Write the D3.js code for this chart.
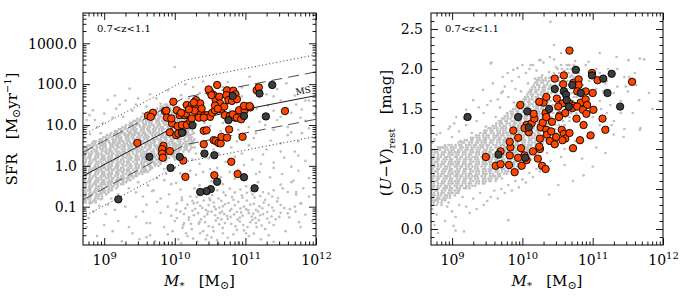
<!DOCTYPE html>
<html>
<head>
<meta charset="utf-8">
<script src="https://cdn.jsdelivr.net/npm/d3@7/dist/d3.min.js"></script>
<style>
  body { margin: 0; background: #fff; }
  svg text { font-family: "DejaVu Serif", serif; fill: #000; }
</style>
</head>
<body>
<script>
var W = 683, H = 302;
var TOP = 13, BOTTOM = 245;

// axis ticks
var massTicks = [1e9, 1e10, 1e11, 1e12];
var massExp = ["9", "10", "11", "12"];
var sfrTicks = [0.1, 1, 10, 100, 1000];
var uvTicks = [0, 0.5, 1, 1.5, 2, 2.5];
var zLabel = "0.7<z<1.1";

// main sequence (log M, log SFR), its label spot, and the bands around it (dex)
var msMass = [8.7, 10.15, 12.0];
var msSFR = [-0.25, 1.10, 1.72];
var msLabel = [11.72, 1.73];
var dashOff = [0.58, -0.58];
var dotOff = [1.0, -1.0];

// highlighted galaxies, [log M, log SFR]
var orangeL = [
  [9.62,1.23],[9.69,1.30],[9.66,1.20],[9.47,0.56],[9.84,0.49],[9.82,0.41],[9.82,0.30],[9.83,0.20],[9.86,1.34],[9.89,1.18],
  [9.98,1.57],[10.03,1.36],[9.96,1.04],[9.93,0.82],[10.04,0.97],[10.02,0.75],[10.15,-0.27],[10.07,1.24],[10.14,1.24],[10.10,1.00],
  [10.17,1.00],[10.22,1.10],[10.11,0.82],[10.05,0.79],[10.17,1.49],[10.24,1.49],[10.30,1.61],[10.31,1.45],[10.33,1.28],[10.36,1.53],
  [10.42,1.24],[10.46,1.24],[10.50,1.20],[10.28,1.35],[10.38,1.40],[10.24,1.16],[10.50,1.81],[10.48,1.87],[10.55,1.73],[10.58,1.61],
  [10.60,1.98],[10.53,1.30],[10.57,1.36],[10.63,1.69],[10.64,1.53],[10.66,1.38],[10.70,1.45],[10.74,1.85],[10.73,1.73],[10.76,1.61],
  [10.81,1.59],[10.83,1.84],[10.86,1.75],[10.88,1.63],[10.91,1.36],[10.71,1.24],[10.78,1.22],[10.85,1.18],[10.41,0.86],[10.45,0.87],
  [10.41,0.53],[10.55,0.63],[10.58,0.61],[10.62,0.56],[10.65,0.55],[10.66,0.71],[10.74,0.69],[10.77,0.89],[10.80,0.10],[10.96,0.71],
  [10.99,1.36],[11.03,1.45],[11.07,1.43],[11.16,1.85],[11.19,1.92],[11.56,1.34],[10.56,-0.23],[10.89,-0.20],[9.93,0.36],[10.12,0.13],
  [9.88,1.35],[9.95,1.16],[10.16,1.28],[10.09,1.30],[10.34,1.18],[10.41,1.18],[10.52,1.73],[10.57,1.48],[10.61,1.40],[10.82,1.26],
  [10.88,1.18],[10.94,1.14],[10.98,1.47],[11.06,1.46],[10.20,1.38],[10.27,1.55]
];
var darkL = [
  [9.20,-0.82],[9.64,0.22],[9.94,-0.05],[10.07,0.22],[10.10,0.81],[10.25,0.99],[10.42,0.30],[10.56,0.26],[10.60,-0.39],[10.51,-0.57],
  [10.45,-0.62],[10.36,-0.64],[10.98,-0.28],[11.13,-0.55],[10.82,1.71],[10.76,1.12],[10.98,1.22],[11.29,1.21],[11.38,1.98],[11.20,1.77]
];

// same galaxies, [log M, U-V]
var orangeR = [
  [9.48,0.90],[9.62,0.79],[9.69,0.81],[9.69,0.97],[9.81,0.80],[9.82,0.92],[9.83,1.02],[9.82,1.09],[9.87,1.23],[9.89,0.71],
  [9.94,1.14],[9.94,0.89],[9.98,1.01],[9.99,0.79],[10.03,0.92],[10.09,1.21],[10.06,1.30],[10.13,1.32],[10.17,1.38],[10.15,0.97],
  [10.22,0.88],[10.25,1.00],[10.25,1.13],[10.26,1.27],[10.28,0.79],[10.33,0.75],[10.29,1.33],[10.34,1.24],[10.35,1.18],[10.39,1.10],
  [10.42,1.34],[10.46,1.06],[10.53,1.42],[10.56,1.24],[10.59,1.19],[10.61,1.13],[10.72,1.01],[10.77,1.38],[10.82,1.11],[10.87,1.30],
  [10.97,1.17],[11.14,1.38],[11.18,1.24],[10.67,2.23],[11.56,1.84],[10.46,1.88],[10.59,1.92],[10.58,1.81],[10.73,1.83],[10.80,1.87],
  [10.80,1.80],[10.78,1.72],[10.90,1.72],[11.00,1.70],[10.99,1.95],[11.07,1.86],[10.49,1.63],[10.57,1.57],[10.67,1.57],[10.73,1.54],
  [10.83,1.58],[10.90,1.62],[10.92,1.55],[10.30,1.58],[9.97,1.55],[10.33,1.45],[10.51,1.53],[10.61,1.45],[10.71,1.51],[10.78,1.53],
  [10.86,1.49],[10.91,1.44],[11.01,1.49],[10.16,1.44],[10.34,1.40],[10.52,1.40],[10.24,1.59],[10.34,1.65],[10.03,1.26],[10.48,1.15],
  [10.57,1.11],[10.67,1.20],[10.41,1.22],[10.24,1.03],[10.06,0.86]
];
var darkR = [
  [9.22,1.40],[9.66,0.93],[9.94,1.40],[10.09,1.27],[10.76,1.99],[10.99,1.92],[11.15,1.88],[11.27,1.94],[11.21,1.70],[11.39,1.53],
  [10.46,1.75],[10.59,1.72],[10.62,1.68],[10.71,1.80],[10.63,1.61],[10.83,1.70],[10.66,1.53],[10.38,1.50],[10.07,1.47],[10.04,0.89]
];

// background sample, dense part written row by row:
// [y value, log M x100 of first point, gaps to the next points in 0.01 dex]
var grayCoreL = [
  [-0.90, 871, "354"],
  [-0.85, 870, "4653"],
  [-0.80, 872, "53746"],
  [-0.75, 870, "362745"],
  [-0.70, 871, "3546347"],
  [-0.65, 870, "46537425"],
  [-0.60, 872, "537463542"],
  [-0.55, 870, "3627453746"],
  [-0.50, 871, "35463473526"],
  [-0.45, 870, "4653742536453"],
  [-0.40, 872, "5374635426374"],
  [-0.35, 870, "362745374635264"],
  [-0.30, 871, "3546347352645436"],
  [-0.25, 870, "46537425364537462"],
  [-0.20, 872, "537463542637453645"],
  [-0.15, 870, "36274537463526473546"],
  [-0.10, 871, "354634735264543657435"],
  [-0.05, 870, "4653742536453746235473"],
  [0.00, 872, "53746354263745364527365"],
  [0.05, 870, "362745374635264735462736"],
  [0.10, 871, "35463473526454365743524637"],
  [0.15, 870, "465374253645374623547364532"],
  [0.20, 872, "5374635426374536452736548374"],
  [0.25, 870, "36274537463526473546273645735"],
  [0.30, 871, "354634735264543657435246375434"],
  [0.35, 872, "4653742536453746235473645326547"],
  [0.40, 870, "537463542637453645273654837452635"],
  [0.45, 872, "3627453746352647354627364573526374"],
  [0.50, 877, "354634735264543657435246375434625"],
  [0.55, 883, "46537425364537462354736453265473"],
  [0.60, 888, "537463542637453645273654837452"],
  [0.65, 894, "36274537463526473546273645735"],
  [0.70, 899, "3546347352645436574352463754"],
  [0.75, 904, "465374253645374623547364532"],
  [0.80, 910, "5374635426374536452736548"],
  [0.85, 915, "362745374635264735462736"],
  [0.90, 921, "35463473526454365743524"],
  [0.95, 926, "4653742536453746235473"],
  [1.00, 931, "53746354263745364527"],
  [1.05, 937, "3627453746352647354"],
  [1.10, 942, "354634735264543657"],
  [1.15, 947, "465374253645374"],
  [1.20, 953, "53746354263745"],
  [1.25, 958, "362745374635"],
  [1.30, 964, "3546347352"],
  [1.35, 969, "46537425"],
  [1.40, 975, "537463"],
  [1.45, 980, "3627"],
  [1.50, 986, "354"]
];
// single points: "logM*100,logSFR*100"
var grayUpperL = "879,124 884,136 875,112 898,104 905,161 917,140 927,120 936,189 948,165 960,145 974,165 1000,242 1009,173 1026,193 1040,206 1068,193 1106,218 1158,202 890,95 912,118 922,150 940,135 955,128 965,175 980,152 990,185 1012,150 1020,165 1035,178 1050,190 1060,168 1075,205 1085,178 1095,192 1115,198 1130,175 1145,188 1170,172 1185,160 1210,150 1160,140 895,80 880,78 1005,140 1015,200 1030,155 995,162 985,131 945,150 930,160 915,172 900,128 887,112 876,96 872,70 885,60 870,88";
var grayLowL = "872,-105 885,-112 878,-128 893,-98 902,-118 915,-108 920,-135 935,-150 945,-125 912,-160 890,-172 950,-180 960,-140 930,-100 875,-150 900,-145 925,-185 955,-112 940,-165 965,-170 888,-90 905,-95 880,-92 872,-85 895,-82 910,-80";
var grayQuiescentL = "985,-35 1002,-42 1018,-30 1035,-48 1052,-38 1068,-45 1085,-32 1101,-50 1118,-40 1135,-28 1150,-46 1168,-36 1182,-55 1030,-22 1060,-25 1090,-18 1120,-15 1152,-20 1175,-12 968,-62 992,-70 1008,-58 1022,-75 1038,-66 1049,-80 1060,-60 1072,-72 1085,-65 1096,-78 1108,-62 1121,-74 1133,-68 1146,-79 1160,-64 1172,-70 1010,-78 1028,-55 1045,-63 1078,-56 1102,-66 1115,-58 1140,-60 1190,-75 955,-75 980,-80 960,-95 975,-88 990,-100 1003,-92 1015,-104 1025,-86 1036,-98 1044,-108 1055,-90 1063,-102 1071,-94 1080,-106 1090,-88 1098,-100 1107,-95 1115,-108 1126,-90 1138,-102 1150,-96 1163,-106 1178,-92 1010,-84 1032,-90 1050,-84 1066,-86 1085,-96 1102,-85 1120,-99 1145,-87 1170,-100 980,-115 995,-122 1008,-112 1020,-126 1033,-116 1042,-124 1052,-112 1061,-128 1070,-118 1079,-125 1088,-113 1096,-122 1105,-116 1114,-128 1125,-118 1137,-124 1150,-115 1162,-126 1025,-110 1046,-119 1067,-112 1092,-127 1118,-112 1140,-110 965,-140 985,-150 1000,-135 1012,-145 1024,-155 1035,-138 1048,-148 1058,-134 1068,-152 1080,-142 1092,-136 1103,-150 1115,-140 1128,-155 1140,-145 1020,-132 1055,-160 1075,-130 1098,-158 1110,-132 960,-175 972,-185 990,-168 1005,-180 1018,-172 1032,-186 1046,-170 1060,-182 1075,-176 1090,-188 1105,-172 1122,-180 1140,-186 985,-190 1040,-160 1068,-165 1003,-128 1013,-118 1027,-121 1037,-131 1057,-121 1064,-116 1074,-123 1084,-119 1094,-114 1109,-124 1121,-121 1131,-129 1039,-103 1048,-96 1058,-106 1068,-99 1076,-91 1093,-104 1104,-109 1112,-93 1124,-104 1133,-96 1027,-92 1041,-85 1062,-80 1083,-83 1095,-72 1113,-78 1128,-83 1023,-142 1043,-138 1063,-143 1086,-148 1107,-138 1123,-146 1016,-165 1036,-165 1052,-175 1083,-168 1112,-166 1133,-170 1157,-160 1178,-150 1195,-135 1200,-110 1210,-95 1225,-80 1185,-120 1176,-138 1018,-95 1029,-105 1047,-112 1056,-100 1066,-131 1078,-110 1089,-131 1101,-106 1111,-117 1119,-133 1131,-113 1143,-131 1155,-103 1034,-142 1054,-150 1071,-140 1088,-157 1101,-165 1062,-190 1044,-180 1026,-178 1009,-190 997,-160 1011,-152 1031,-76 1053,-72 1069,-65 1093,-58 1110,-70 1125,-64 1138,-75 1081,-76 1002,-108 1013,-140 1097,-145 1116,-150 1134,-139 1148,-125 1160,-116 1171,-112";
var grayValleyL = "920,-70 935,-55 948,-40 962,-48 975,-30 988,-20 1000,-5 1012,8 1022,-12 1035,5 1048,18 1060,-5 1072,10 1085,22 1098,2 1110,15 1125,28 1140,8 1155,20 1170,35 1185,12 945,-65 970,-60 995,-45 1015,-30 1040,-15 1065,-28 1090,-10 1115,-20 1140,-5 1165,-2 1005,25 1030,30 1055,40 1080,45 1105,50 1130,40 1150,55 1175,60 1195,45 958,-15 980,5 1000,15 1020,35 1042,45 1062,30 1088,60 1112,68 1136,62 1160,75 1180,80 1200,70 1210,30 1225,55 1240,20 1153,-55 1172,-64 1179,-92 1165,-40 1190,-30 940,-25 955,-5 968,12 985,-8 1008,-18 1025,15 1050,-8 1078,-15 1095,30 1122,5 1150,35 1175,25";
var grayMassiveL = "1010,110 1022,125 1035,132 1045,118 1055,140 1062,128 1070,150 1078,135 1085,160 1092,145 1100,130 1108,155 1116,140 1125,125 1132,148 1140,135 1150,160 1158,142 1165,130 1172,150 1180,138 1190,160 1200,145 1210,130 1225,150 1030,102 1050,98 1068,105 1088,110 1105,95 1120,108 1145,112 1160,95 1185,110 1040,150 1058,165 1075,175 1095,170 1118,178 1140,170 1028,145 1048,130 1066,120 1083,122 1100,115 1128,100 1150,120 1178,118 1198,125 1215,112 1015,92 1025,78 1045,80 1065,85 1090,88 1115,80 1140,88 1165,82 1190,92 1212,85 1020,140 1032,120 1042,105 1052,112 1038,88 1025,100 1012,130";

var grayCoreR = [
  [0.30, 870, "35"],
  [0.33, 870, "465"],
  [0.36, 871, "5374"],
  [0.39, 870, "362745"],
  [0.42, 872, "3546347"],
  [0.45, 870, "465374253"],
  [0.48, 871, "537463542"],
  [0.51, 870, "362745374635"],
  [0.54, 872, "35463473526454"],
  [0.57, 870, "46537425364537462"],
  [0.60, 871, "53746354263745364527"],
  [0.63, 870, "3627453746352647354627"],
  [0.66, 872, "3546347352645436574352"],
  [0.69, 870, "465374253645374623547364"],
  [0.72, 871, "5374635426374536452736548"],
  [0.75, 870, "362745374635264735462736457"],
  [0.78, 872, "3546347352645436574352463754"],
  [0.81, 870, "46537425364537462354736453265"],
  [0.84, 871, "537463542637453645273654837452"],
  [0.87, 870, "3627453746352647354627364573526"],
  [0.90, 872, "3546347352645436574352463754346"],
  [0.93, 870, "465374253645374623547364532654735"],
  [0.96, 871, "537463542637453645273654837452635"],
  [0.99, 872, "3627453746352647354627364573526374"],
  [1.02, 880, "354634735264543657435246375434625"],
  [1.05, 895, "465374253645374623547364532654"],
  [1.08, 909, "5374635426374536452736548374"],
  [1.11, 918, "36274537463526473546273645"],
  [1.14, 927, "354634735264543657435246"],
  [1.17, 934, "46537425364537462354736"],
  [1.20, 940, "537463542637453645273"],
  [1.23, 946, "36274537463526473546"],
  [1.26, 952, "3546347352645436574"],
  [1.29, 958, "46537425364537462"],
  [1.32, 963, "5374635426374536"],
  [1.35, 967, "362745374635264"],
  [1.38, 971, "35463473526454"],
  [1.41, 975, "4653742536453"],
  [1.44, 979, "537463542637"],
  [1.47, 983, "362745374635"],
  [1.50, 987, "35463473526"],
  [1.53, 991, "4653742536"],
  [1.56, 995, "537463542"],
  [1.59, 999, "36274537"],
  [1.62, 1002, "3546347"],
  [1.65, 1004, "4653742"],
  [1.68, 1007, "537463"],
  [1.71, 1009, "362745"],
  [1.74, 1011, "35463"],
  [1.77, 1014, "46537"],
  [1.80, 1016, "5374"],
  [1.83, 1018, "3627"],
  [1.86, 1021, "354"],
  [1.89, 1023, "465"]
];
var grayHighR = [
  [1.20, 1040, "87"],
  [1.25, 1038, "96"],
  [1.30, 1040, "758"],
  [1.35, 1037, "6879"],
  [1.40, 1041, "7586"],
  [1.45, 1038, "695748"],
  [1.50, 1040, "7596847"],
  [1.55, 1037, "68574967"],
  [1.60, 1040, "8469578"],
  [1.65, 1038, "75968475"],
  [1.70, 1041, "6857496"],
  [1.75, 1037, "8469578"],
  [1.80, 1040, "7596847"],
  [1.85, 1038, "6857496"],
  [1.90, 1041, "846957"],
  [1.95, 1045, "75968"],
  [2.00, 1050, "6857"],
  [2.05, 1055, "846"]
];
// single points: "logM*100,(U-V)*100"
var grayUpperR = "883,120 897,128 906,140 920,149 930,161 944,174 958,182 972,190 987,199 1000,205 1024,211 1039,215 1040,259 956,208 875,112 890,105 900,115 910,122 920,130 925,140 935,135 945,145 950,155 955,160 965,162 970,170 975,178 980,165 985,185 990,175 995,190 1005,195 1010,200 1015,205 1020,198 1030,208 1045,212 1055,220 1065,205 1075,210 872,108 878,118 886,102 895,125 903,132 912,110 917,138 928,120 938,152 948,128 962,140 968,152 978,145 988,158 998,172 1008,182 1018,188 1028,192 1038,196 1048,202 1060,198 1070,192 1080,200 1090,205 955,207 972,172 979,195 993,201 1012,205 1026,211 1045,230 1094,209 1134,215 1151,211 1167,213 1110,220 1122,200";
var grayLowR = "872,25 878,18 885,30 890,10 895,33 900,22 905,-2 902,4 910,30 915,40 920,28 930,38 940,45 950,35 960,48 970,50 980,55 990,60 1000,62 1010,70 1020,75 1035,95 1050,105 1060,100 1068,102 980,11 875,5 880,-5 874,35 882,38 893,28 905,15 917,-3 925,20 935,25 945,30 955,40 965,38 975,45 985,48 995,52 1005,58 1015,65 1025,72 1040,85 1055,90 1072,98 1085,88 1100,78 1087,67 1072,60 1051,55 1038,43 1060,80 1075,110 1092,115 1105,102 1118,95 1130,118 1145,125 1110,130";
var grayMassiveR = "1173,212 1152,190 1147,178 1166,161 1157,145 1168,126 1100,190 1110,195 1120,185 1130,170 1135,200 1140,160 1145,190 1125,155 1160,195 1110,160 1105,175 1115,172 1120,145 1130,135 1167,124 1127,130 1144,115 1095,185 1102,168 1118,182 1135,178 1150,172 1162,180 1100,140 1090,150 1112,150 1140,145 1180,170 1185,150 1195,160 1095,195 1105,200 1085,180";


/***  HELPERS ***/

//Turn the row tables into [logM, y] points
function rowsToPoints(rows) {
  var pts = [];
  rows.forEach(function(r) {
    var m = r[1];
    pts.push([m / 100, r[0]]);
    for (var i = 0; i < r[2].length; i++) {
      m += +r[2][i];
      pts.push([m / 100, r[0]]);
    }
  });
  return pts;
}

//Turn "a,b a,b ..." into [a/100, b/100] points
function pairsToPoints(str) {
  return str.trim().split(/\s+/).map(function(p) {
    var v = p.split(",");
    return [+v[0] / 100, +v[1] / 100];
  });
}

var massMin = Math.pow(10, 8.7);
var xMinor = [];
[8, 9, 10, 11].forEach(function(k) {
  for (var j = 2; j <= 9; j++) {
    var v = j * Math.pow(10, k);
    if (v > massMin && v < 1e12) xMinor.push(v);
  }
});
var sfrDomain = [Math.pow(10, -1.938), Math.pow(10, 3.742)];
var sfrMinor = [];
[-2, -1, 0, 1, 2, 3].forEach(function(k) {
  for (var j = 2; j <= 9; j++) {
    var v = j * Math.pow(10, k);
    if (v > sfrDomain[0] && v < sfrDomain[1]) sfrMinor.push(v);
  }
});
var uvMinor = d3.range(-1, 27).map(function(i) { return i / 10; })
  .filter(function(v) { return Math.abs(v * 2 - Math.round(v * 2)) > 1e-6; });

var svg = d3.select("body").append("svg").attr("width", W).attr("height", H);

function tickAxis(g, axis, tr, size) {
  var a = g.append("g").attr("transform", tr).call(axis.tickSize(-size).tickFormat(""));
  a.select(".domain").remove();
  a.selectAll(".tick text").remove();
  a.selectAll(".tick line").attr("stroke-width", 0.9);
  return a;
}

function drawPanel(p) {
  var x = d3.scaleLog().domain([massMin, 1e12]).range([p.left, p.right]);
  var y = p.y;
  var px = function(d) { return x(Math.pow(10, d[0])); };
  var py = function(d) { return y(p.logY ? Math.pow(10, d[1]) : d[1]); };

  var g = svg.append("g");
  g.append("clipPath").attr("id", p.id).append("rect")
    .attr("x", p.left).attr("y", TOP).attr("width", p.right - p.left).attr("height", BOTTOM - TOP);
  var plot = g.append("g").attr("clip-path", "url(#" + p.id + ")");

  plot.append("g").selectAll("circle").data(p.gray).join("circle")
    .attr("cx", px).attr("cy", py).attr("r", 1.35).attr("fill", "#c0c0c0");

  if (p.lines) p.lines(plot, px, py);

  plot.append("g").selectAll("circle").data(p.orange).join("circle")
    .attr("cx", px).attr("cy", py).attr("r", 3.7)
    .attr("fill", "#ff4500").attr("stroke", "#000").attr("stroke-width", 0.9);
  plot.append("g").selectAll("circle").data(p.dark).join("circle")
    .attr("cx", px).attr("cy", py).attr("r", 3.7)
    .attr("fill", "#3d3d3d").attr("stroke", "#000").attr("stroke-width", 0.9);

  // frame
  g.append("rect").attr("x", p.left).attr("y", TOP)
    .attr("width", p.right - p.left).attr("height", BOTTOM - TOP)
    .attr("fill", "none").attr("stroke", "#000").attr("stroke-width", 1);

  // ticks on all four sides, pointing in
  var xb = tickAxis(g, d3.axisBottom(x).tickValues(massTicks), "translate(0," + BOTTOM + ")", 7);
  tickAxis(g, d3.axisBottom(x).tickValues(xMinor), "translate(0," + BOTTOM + ")", 3.5);
  tickAxis(g, d3.axisTop(x).tickValues(massTicks), "translate(0," + TOP + ")", 7);
  tickAxis(g, d3.axisTop(x).tickValues(xMinor), "translate(0," + TOP + ")", 3.5);
  var yl = tickAxis(g, d3.axisLeft(y).tickValues(p.yTicks), "translate(" + p.left + ",0)", 7);
  tickAxis(g, d3.axisLeft(y).tickValues(p.yMinor), "translate(" + p.left + ",0)", 3.5);
  tickAxis(g, d3.axisRight(y).tickValues(p.yTicks), "translate(" + p.right + ",0)", 7);
  tickAxis(g, d3.axisRight(y).tickValues(p.yMinor), "translate(" + p.right + ",0)", 3.5);

  // x tick labels 10^n
  var lab = xb.selectAll(".tick").append("text")
    .attr("y", 20).attr("text-anchor", "middle").style("font-size", "14px");
  lab.append("tspan").text("10");
  lab.append("tspan").attr("dy", -6).style("font-size", "10px")
    .text(function(d, i) { return massExp[i]; });

  // y tick labels
  yl.selectAll(".tick").append("text")
    .attr("x", -p.yPad).attr("dy", "0.34em").attr("text-anchor", "end")
    .style("font-size", "14px")
    .text(function(d) { return d3.format(".1f")(d); });

  // redshift label
  g.append("text").attr("x", p.left + 14).attr("y", 31.5)
    .style("font-size", "10px").text(zLabel);

  // x title
  var xt = g.append("text").attr("x", (p.left + p.right) / 2).attr("y", 286)
    .attr("text-anchor", "middle").style("font-size", "15px");
  xt.append("tspan").style("font-style", "italic").text("M");
  xt.append("tspan").attr("dy", 3).style("font-size", "10px").text("*");
  xt.append("tspan").attr("dy", -3).text("\u00a0\u00a0\u00a0[M");
  xt.append("tspan").attr("dy", 3).style("font-size", "11px").text("\u2299");
  xt.append("tspan").attr("dy", -3).text("]");

  p.yTitle(g);
}

// left panel: SFR vs mass
drawPanel({
  id: "clipL", left: 83, right: 316, logY: true,
  y: d3.scaleLog().domain(sfrDomain).range([BOTTOM, TOP]),
  yTicks: sfrTicks, yMinor: sfrMinor, yPad: 6,
  gray: rowsToPoints(grayCoreL).concat(pairsToPoints(grayUpperL), pairsToPoints(grayLowL),
    pairsToPoints(grayQuiescentL), pairsToPoints(grayValleyL), pairsToPoints(grayMassiveL)),
  orange: orangeL, dark: darkL,
  lines: function(plot, px, py) {
    var ms = msMass.map(function(m, i) { return [m, msSFR[i]]; });
    var line = d3.line().x(px).y(py);
    dotOff.forEach(function(o) {
      plot.append("path").datum(ms.map(function(d) { return [d[0], d[1] + o]; }))
        .attr("d", line).attr("fill", "none").attr("stroke", "#333")
        .attr("stroke-width", 1).attr("stroke-dasharray", "1,2.6");
    });
    dashOff.forEach(function(o) {
      plot.append("path").datum(ms.map(function(d) { return [d[0], d[1] + o]; }))
        .attr("d", line).attr("fill", "none").attr("stroke", "#4d4d4d")
        .attr("stroke-width", 1).attr("stroke-dasharray", "11,6");
    });
    plot.append("path").datum(ms).attr("d", line).attr("fill", "none")
      .attr("stroke", "#1a1a1a").attr("stroke-width", 1);
    plot.append("text").attr("transform", "translate(" + px(msLabel) + "," + py(msLabel) + ") rotate(-11)")
      .style("font-size", "9px").text("MS");
  },
  yTitle: function(g) {
    var t = g.append("text").attr("transform", "translate(17,129) rotate(-90)")
      .attr("text-anchor", "middle").style("font-size", "15px");
    t.append("tspan").text("SFR\u00a0\u00a0\u00a0[M");
    t.append("tspan").attr("dy", 3).style("font-size", "11px").text("\u2299");
    t.append("tspan").attr("dy", -3).text("yr");
    t.append("tspan").attr("dy", -6).style("font-size", "10px").text("\u22121");
    t.append("tspan").attr("dy", 6).text("]");
  }
});

// right panel: U-V colour vs mass
drawPanel({
  id: "clipR", left: 431, right: 663, logY: false,
  y: d3.scaleLinear().domain([-0.2, 2.7]).range([BOTTOM, TOP]),
  yTicks: uvTicks, yMinor: uvMinor, yPad: 8,
  gray: rowsToPoints(grayCoreR).concat(rowsToPoints(grayHighR), pairsToPoints(grayUpperR),
    pairsToPoints(grayLowR), pairsToPoints(grayMassiveR)),
  orange: orangeR, dark: darkR,
  yTitle: function(g) {
    var t = g.append("text").attr("transform", "translate(391,133) rotate(-90)")
      .attr("text-anchor", "middle").style("font-size", "15px");
    t.append("tspan").text("(");
    t.append("tspan").style("font-style", "italic").text("U");
    t.append("tspan").text("\u2212");
    t.append("tspan").style("font-style", "italic").text("V");
    t.append("tspan").text(")");
    t.append("tspan").attr("dy", 4).style("font-size", "10px").text("rest");
    t.append("tspan").attr("dy", -4).text("\u00a0\u00a0\u00a0[mag]");
  }
});
</script>
</body>
</html>
